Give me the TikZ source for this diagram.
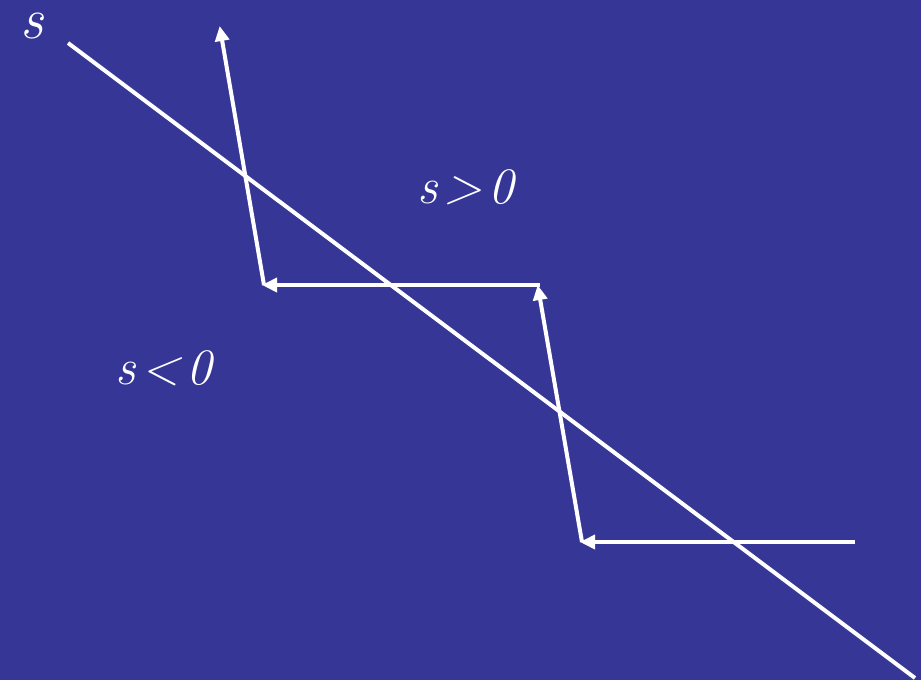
\documentclass[tikz,border=0pt]{standalone}
\usetikzlibrary{arrows.meta}
\definecolor{bgblue}{RGB}{54,54,150}
\begin{document}
\begin{tikzpicture}[x=1pt,y=-1pt,
  wline/.style={draw=white,line width=4pt},
  warrow/.style={wline,-{Triangle[length=15pt,width=14pt]},shorten >=-2pt},
  lbl/.style={text=white,font=\fontsize{51}{53}\selectfont\itshape,inner sep=0pt,anchor=base}]
\fill[bgblue] (0,0) rectangle (921,680);
\useasboundingbox (0,0) rectangle (921,680);
\coordinate (l1) at (68,43);
\coordinate (l2) at (915,678);
\draw[wline] (l1) -- (l2);
\coordinate (p0) at (855,542);
\coordinate (p1) at (582,542);
\coordinate (p2) at (538,287);
\coordinate (p2b) at (538,285);
\coordinate (p3) at (264,285);
\coordinate (p4) at (220,28);
\draw[warrow] (p0) -- (p1);
\draw[warrow] (p1) -- (p2);
\draw[wline] (p2b) -- ++(2,0);
\draw[warrow] (p2b) -- (p3);
\draw[warrow] (p3) -- (p4);
\node[lbl,font=\fontsize{58}{60}\selectfont\itshape] (s) at (32,38) {s};
\node[lbl] (pos) at (466,203) {s\kern6pt>\kern6pt0};
\node[lbl] (neg) at (164,384) {s\kern6pt<\kern6pt0};
\end{tikzpicture}
\end{document}
